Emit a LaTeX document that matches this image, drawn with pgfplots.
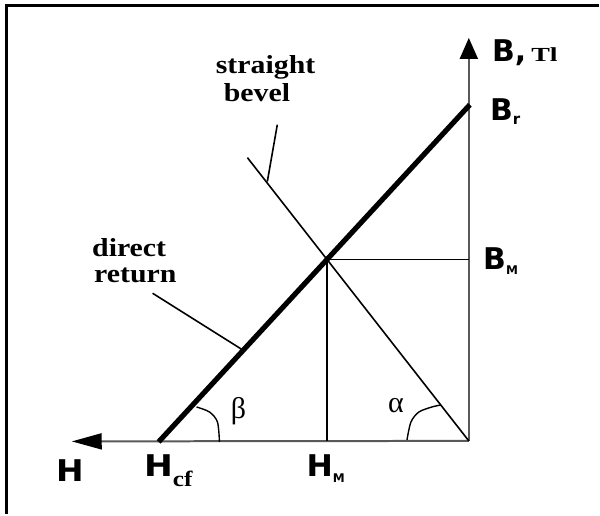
\documentclass[border=0pt]{standalone}
\usepackage{fontspec}
\setmainfont{Liberation Serif}
\newfontfamily\sfb{DejaVu Sans}
\usepackage{pgfplots}
\pgfplotsset{compat=1.18}
\usetikzlibrary{arrows.meta}
\begin{document}
\begin{tikzpicture}
\begin{axis}[hide axis, scale only axis, width=300pt, height=257.5pt,
  xmin=0, xmax=600, ymin=0, ymax=515, clip=false]
% background to fix the picture size
\addplot[fill=white, draw=none] coordinates {(0,0) (600,0) (600,515) (0,515)} \closedcycle;
% frame (top and left only)
\addplot[black, line width=1.5pt] coordinates {(7,0) (7,509) (600,509)};
% axes
\addplot[black!65, line width=1pt, -{Triangle[length=10.5pt,width=9pt,black]}] coordinates {(470,73) (470,477)};
\addplot[black!65, line width=1pt, -{Triangle[length=15pt,width=8pt,black]}] coordinates {(470,73) (72,72.5)};
% auxiliary lines
\addplot[black, line width=0.8pt] coordinates {(328,255) (470,255)};
\addplot[black, line width=0.8pt] coordinates {(328,255) (328,73)};
% straight bevel line
\addplot[black, line width=0.8pt] coordinates {(470,73) (248,357)};
\addplot[black, line width=0.8pt] coordinates {(268,333) (278,390)};
% direct return line
\addplot[black, line width=2.6pt] coordinates {(159,72) (471,410)};
\addplot[black, line width=0.8pt] coordinates {(153,221) (242,165)};
% angle arcs
\addplot[black, line width=0.7pt, smooth] coordinates {(220,72) (218,92) (210,102) (197,107)};
\addplot[black, line width=0.7pt, smooth] coordinates {(408,74) (412,92) (420,102) (433,107) (442,109)};
% labels
\node[anchor=west, inner sep=0] at (axis cs:493,462) {\sfb\bfseries\fontsize{15}{15}\selectfont B,\,{\rmfamily\fontsize{10}{10}\selectfont\scalebox{1.4}[1]{Tl}}};
\node[anchor=west, inner sep=0] at (axis cs:491,403) {\sfb\bfseries\fontsize{15}{15}\selectfont B\raisebox{-2pt}{\fontsize{7.5}{7.5}\selectfont r}};
\node[anchor=west, inner sep=0] at (axis cs:484,253) {\sfb\bfseries\fontsize{15}{15}\selectfont B\raisebox{-2.5pt}{\fontsize{6}{6}\selectfont M}};
\node[anchor=center, inner sep=0] at (axis cs:70,43) {\sfb\bfseries\fontsize{15}{15}\selectfont \scalebox{1.1}[1]{H}};
\node[anchor=west, inner sep=0] at (axis cs:144,43) {\sfb\bfseries\fontsize{15}{15}\selectfont \scalebox{1.15}[1]{H}\raisebox{-5pt}{\rmfamily\fontsize{11}{11}\selectfont\scalebox{1.15}[1]{cf}}};
\node[anchor=west, inner sep=0] at (axis cs:307,45) {\sfb\bfseries\fontsize{15}{15}\selectfont \scalebox{1.05}[1]{H}\raisebox{-3pt}{\fontsize{6}{6}\selectfont M}};
\node[anchor=center, inner sep=0] at (axis cs:239,103) {\fontsize{15}{15}\selectfont β};
\node[anchor=center, inner sep=0] at (axis cs:397,108) {\fontsize{15}{15}\selectfont α};
\node[anchor=west, inner sep=0] at (axis cs:216,447) {\bfseries\fontsize{13}{13}\selectfont\scalebox{1.15}[1]{straight}};
\node[anchor=west, inner sep=0] at (axis cs:224,422) {\bfseries\fontsize{13}{13}\selectfont\scalebox{1.15}[1]{bevel}};
\node[anchor=west, inner sep=0] at (axis cs:92,267) {\bfseries\fontsize{13}{13}\selectfont\scalebox{1.15}[1]{direct}};
\node[anchor=west, inner sep=0] at (axis cs:94,239) {\bfseries\fontsize{13}{13}\selectfont\scalebox{1.15}[1]{return}};
\end{axis}
\end{tikzpicture}
\end{document}
